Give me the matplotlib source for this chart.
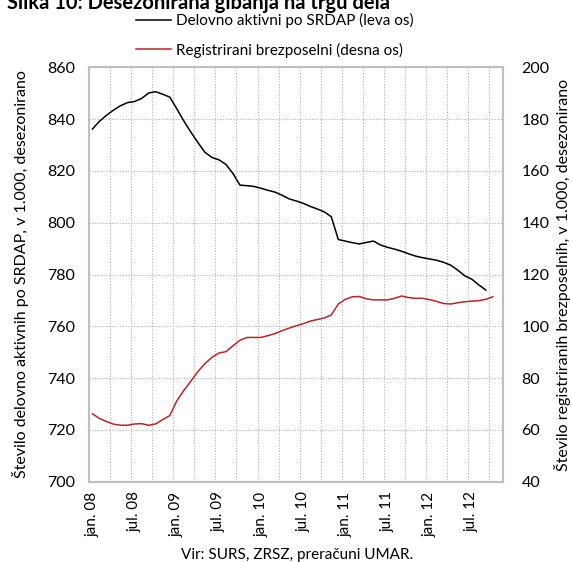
import matplotlib.pyplot as plt
import numpy as np

plt.rcParams['font.family'] = ['Lato', 'DejaVu Sans']

# monthly categories jan.08 .. nov.12 (last category empty)
months = ['jan', 'feb', 'mar', 'apr', 'maj', 'jun', 'jul', 'avg', 'sep', 'okt', 'nov', 'dec']
categories = [f'{m}.{y:02d}' for y in range(8, 13) for m in months][:59]
tick_labels = ['jan. 08', 'jul. 08', 'jan. 09', 'jul. 09', 'jan. 10',
               'jul. 10', 'jan. 11', 'jul. 11', 'jan. 12', 'jul. 12']

# Delovno aktivni po SRDAP (v 1.000), jan.08 .. sep.12
employed = [836.2, 839.2, 841.5, 843.5, 845.2, 846.4, 846.8, 848.0, 850.1, 850.6,
            849.6, 848.5, 844.0, 839.3, 835.0, 831.0, 827.2, 825.2, 824.3, 822.5,
            819.0, 814.5, 814.3, 814.0, 813.3, 812.5, 811.8, 810.6, 809.2, 808.4,
            807.5, 806.3, 805.3, 804.2, 802.3, 793.5, 792.9, 792.3, 791.8, 792.4,
            792.9, 791.4, 790.5, 789.8, 789.0, 788.0, 787.1, 786.5, 786.0, 785.5,
            784.7, 783.6, 781.7, 779.5, 778.2, 776.0, 774.0]

# Registrirani brezposelni (v 1.000), jan.08 .. okt.12
unemployed = [66.2, 64.4, 63.2, 62.2, 61.8, 61.8, 62.3, 62.4, 61.8, 62.3,
              64.0, 65.5, 71.2, 75.2, 78.8, 82.5, 85.6, 88.0, 89.7, 90.2,
              92.5, 94.6, 95.7, 95.7, 95.7, 96.4, 97.2, 98.3, 99.3, 100.2,
              101.0, 102.0, 102.6, 103.2, 104.4, 108.6, 110.4, 111.4, 111.5, 110.6,
              110.2, 110.2, 110.2, 110.8, 111.7, 111.1, 110.8, 110.8, 110.3, 109.6,
              108.8, 108.6, 109.1, 109.5, 109.7, 109.9, 110.4, 111.4]

n = len(categories)
red = '#b5262b'
grey = '#bfbfbf'

fig = plt.figure(figsize=(5.72, 5.62), dpi=100)
ax = fig.add_axes([0.1556, 0.1429, 0.7244, 0.7373])
ax2 = ax.twinx()

l1, = ax.plot(np.arange(len(employed)), employed, color='black', lw=1.1,
              label='Delovno aktivni po SRDAP (leva os)')
l2, = ax2.plot(np.arange(len(unemployed)), unemployed, color=red, lw=1.1,
               label='Registrirani brezposelni (desna os)')

ax.set_xlim(-0.5, n - 0.5)
ax.set_ylim(700, 860)
ax.set_yticks(np.arange(700, 861, 20))
ax2.set_ylim(40, 200)
ax2.set_yticks(np.arange(40, 201, 20))

# gridlines: horizontal at left ticks, vertical every 3 months at category edges
for v in np.arange(720, 860, 20):
    ax.axhline(v, color='#b0b0b0', lw=0.8, ls=(0, (1, 1.5)), zorder=0)
for xv in np.arange(-0.5 + 3, n - 0.5, 3):
    ax.axvline(xv, color='#b0b0b0', lw=0.8, ls=(0, (1, 1.5)), zorder=0)

ax.set_xticks(np.arange(0, n, 6)[:len(tick_labels)])
ax.set_xticklabels(tick_labels, rotation=90, fontsize=11)
ax.tick_params(axis='x', length=0, pad=7)
ax.tick_params(axis='y', length=0, pad=10, labelsize=11.5)
ax2.tick_params(axis='y', length=0, pad=13, labelsize=11.5)

for a in (ax, ax2):
    for s in a.spines.values():
        s.set_color(grey)
        s.set_linewidth(1.5)

ax.set_ylabel('Število delovno aktivnih po SRDAP, v 1.000, desezonirano', fontsize=11.5)
ax2.set_ylabel('Število registriranih brezposelnih, v 1.000, desezonirano', fontsize=11.5,
               rotation=90)
ax.yaxis.label.set_va('center')
ax2.yaxis.label.set_va('center')
ax.yaxis.set_label_coords(-0.165, 0.5)
ax2.yaxis.set_label_coords(1.143, 0.5)

fig.legend(handles=[l1, l2], loc='upper left', bbox_to_anchor=(0.222, 0.993),
           frameon=False, fontsize=11, handlelength=2.3, handletextpad=0.3,
           labelspacing=0.95, borderaxespad=0.2)

fig.text(0.012, 1 - 9 / 562, 'Slika 10: Desezonirana gibanja na trgu dela',
         fontsize=14.5, fontweight='bold', va='baseline', ha='left')
fig.text(0.52, 0.0, 'Vir: SURS, ZRSZ, preračuni UMAR.', fontsize=11,
         ha='center', va='bottom')

fig.savefig('out.png', dpi=100)
